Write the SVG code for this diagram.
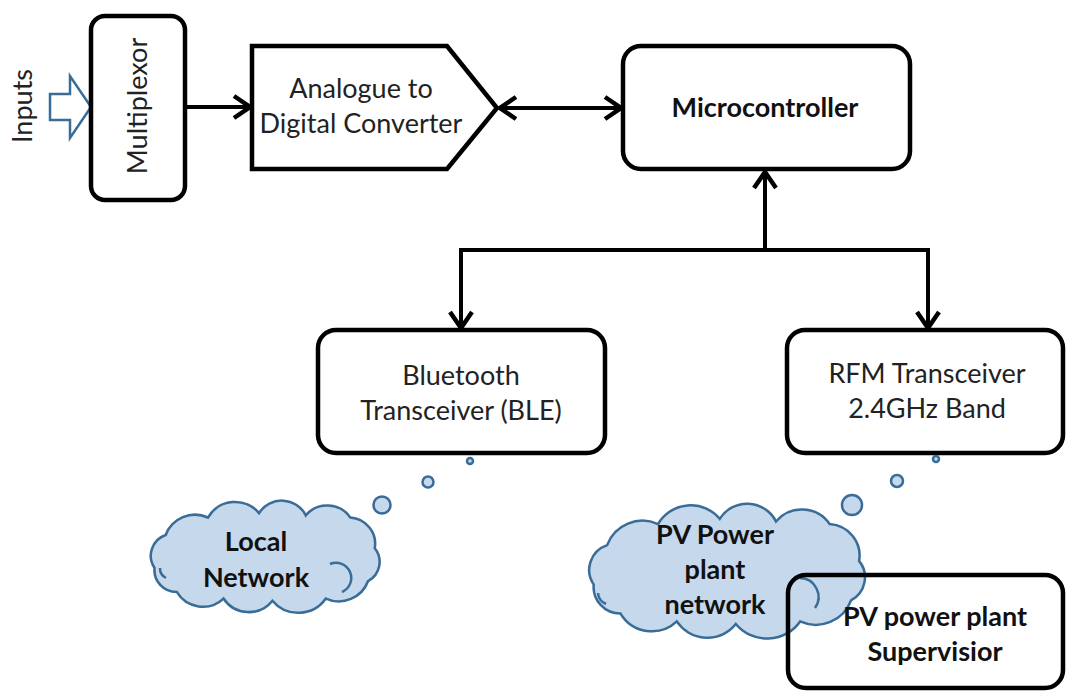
<svg xmlns="http://www.w3.org/2000/svg" width="1067" height="693" viewBox="0 0 1067 693">
<style>
.box{fill:#fff;stroke:#000;stroke-width:4.5}
.open{fill:none;stroke:#000;stroke-width:4.5}
.t{font-family:Lato,"Open Sans",sans-serif;font-size:27px;fill:#222;text-anchor:middle}
.b{font-family:Lato,"Open Sans",sans-serif;font-size:27px;font-weight:bold;fill:#111;text-anchor:middle}
.conn{fill:none;stroke:#000;stroke-width:4}
.cloud{fill:#c6d9ec;stroke:#3a6c98;stroke-width:2.5}
.inner{fill:none;stroke:#3a6c98;stroke-width:2.5}
.bub{fill:#c6d9ec;stroke:#3a6c98;stroke-width:2.5}
</style>
<defs>
<marker id="ah" markerUnits="userSpaceOnUse" viewBox="0 0 22 26" markerWidth="22" markerHeight="26" refX="19" refY="13" orient="auto-start-reverse">
<path d="M3,2 L19,13 L3,24" fill="none" stroke="#000" stroke-width="4.5" stroke-linejoin="miter"/>
</marker>
<path id="cloudshape" d="M14,62 A20,20 0 0 1 24,32 A28,28 0 0 1 62,16 A28,28 0 0 1 108,12 A24,24 0 0 1 150,14 A25,25 0 0 1 190,16 A24,24 0 0 1 212,44 A20,20 0 0 1 206,74 A28,28 0 0 1 168,90 A30,30 0 0 1 120,92 A27,27 0 0 1 76,90 A27,27 0 0 1 34,84 A20,20 0 0 1 14,62 Z"/>
</defs>

<g id="inputs">
<path d="M50,94 L70,94 L70,76 L91,107 L70,138 L70,120 L50,120 Z" fill="#fff" stroke="#3a6c98" stroke-width="2.5"/>
<text class="t" transform="translate(32,106) rotate(-90)">Inputs</text>
</g>

<g id="multiplexor">
<rect class="box" x="91" y="16" width="94" height="184" rx="14"/>
<text class="t" transform="translate(147,106) rotate(-90)">Multiplexor</text>
</g>

<g id="adc">
<path class="box" d="M252,46 L447,46 L497,108 L447,169 L252,169 Z"/>
<text class="t" x="361" y="98">Analogue to</text>
<text class="t" x="361" y="133">Digital Converter</text>
</g>

<g id="microcontroller">
<rect class="box" x="623" y="46" width="287" height="123" rx="18"/>
<text class="b" x="765" y="117">Microcontroller</text>
</g>

<g id="bluetooth">
<rect class="box" x="318" y="330" width="287" height="123" rx="18"/>
<text class="t" x="461" y="385">Bluetooth</text>
<text class="t" x="461" y="420">Transceiver (BLE)</text>
</g>

<g id="rfm">
<rect class="box" x="787" y="330" width="276" height="123" rx="18"/>
<text class="t" x="927" y="383">RFM Transceiver</text>
<text class="t" x="927" y="418">2.4GHz Band</text>
</g>

<g id="local-network">
<circle class="bub" cx="470" cy="461" r="3"/>
<circle class="bub" cx="428" cy="482" r="5.5"/>
<circle class="bub" cx="382" cy="505" r="8.5"/>
<use href="#cloudshape" class="cloud" transform="translate(139,500) scale(1.112,1.095)" style="stroke-width:2.3"/>
<path class="inner" d="M160,568 A11,11 0 0 0 166,578"/>
<path class="inner" d="M330,564 A15,15 0 0 1 342,592"/>
<text class="b" x="256" y="551">Local</text>
<text class="b" x="256" y="587">Network</text>
</g>

<g id="pv-network">
<circle class="bub" cx="936" cy="459" r="3"/>
<circle class="bub" cx="897" cy="481" r="6"/>
<circle class="bub" cx="852" cy="505" r="10"/>
<use href="#cloudshape" class="cloud" transform="translate(575,503) scale(1.34,1.316)" style="stroke-width:1.9"/>
<path class="inner" d="M598,593 A13,13 0 0 0 606,604"/>
<path class="inner" d="M800,578 A19,19 0 0 1 815,608"/>
<text class="b" x="715" y="544">PV Power</text>
<text class="b" x="715" y="579">plant</text>
<text class="b" x="715" y="614">network</text>
</g>

<g id="supervisor">
<rect class="open" x="788" y="575" width="275" height="113" rx="18"/>
<text class="b" x="935" y="626">PV power plant</text>
<text class="b" x="935" y="661">Supervisior</text>
</g>

<g id="connectors">
<line class="conn" x1="187" y1="107" x2="250" y2="107" marker-end="url(#ah)"/>
<line class="conn" x1="500" y1="108" x2="621" y2="108" marker-start="url(#ah)" marker-end="url(#ah)"/>
<line class="conn" x1="765" y1="250" x2="765" y2="172" marker-end="url(#ah)"/>
<polyline class="conn" points="461,328 461,250 928,250 928,328" marker-start="url(#ah)" marker-end="url(#ah)"/>
</g>
</svg>
